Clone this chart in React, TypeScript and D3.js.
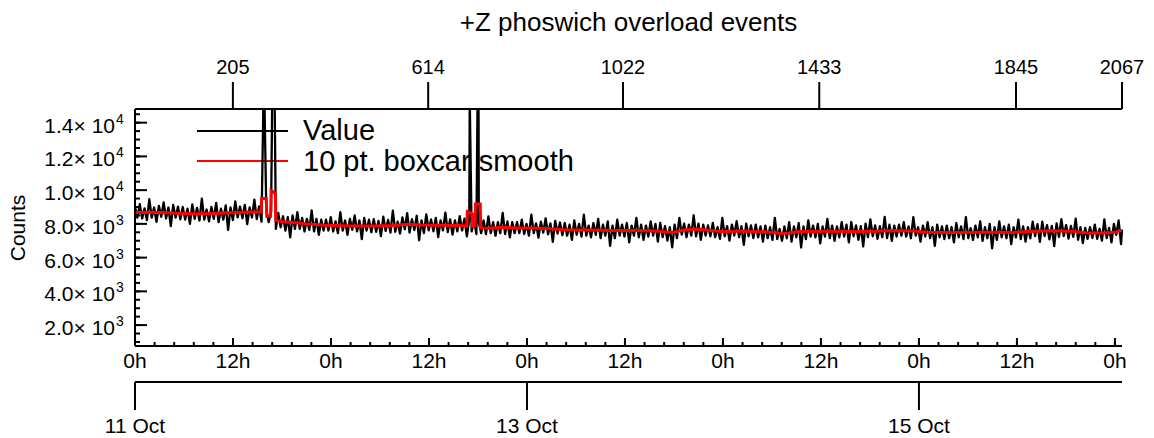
import React from 'react';
import * as d3 from 'd3';

const W = 1154;
const H = 438;
const title = '+Z phoswich overload events';
const yLabel = 'Counts';
const legendLabels = ['Value', '10 pt. boxcar smooth'];

const indexStep = 5;
const values = [
  9020, 8370, 9170, 8320, 8920, 8220, 9470, 8370, 8970, 8120, 9070, 8420, 9270, 8320, 8970, 7870, 9120, 8370, 9020, 8270,
  9000, 8250, 8900, 8000, 9150, 8300, 8950, 8200, 9500, 8250, 8850, 8150, 9000, 8300, 9250, 8100, 8900, 8250, 9100, 7650,
  8980, 8230, 9330, 8380, 9030, 8330, 9130, 7980, 8980, 8380, 9430, 8280, 9030, 8130, 17100, 8800, 8100, 8750, 23000, 7700,
  8650, 7800, 8450, 7600, 8400, 7200, 8500, 7700, 8700, 7700, 8350, 7550, 8300, 7650, 8800, 7550, 8300, 7350, 8250, 7600,
  8250, 7600, 8400, 7550, 8150, 7450, 8700, 7600, 8200, 7350, 8300, 7650, 8500, 7550, 8200, 7100, 8350, 7600, 8250, 7500,
  8280, 7530, 8180, 7280, 8430, 7580, 8230, 7480, 8780, 7530, 8130, 7430, 8380, 7680, 8630, 7480, 8280, 7630, 8480, 7030,
  8210, 7460, 8560, 7610, 8260, 7560, 8360, 7210, 8210, 7610, 8660, 7510, 8260, 7360, 8210, 7560, 8460, 7610, 8310, 7260,
  8250, 7550, 8200, 7400, 8100, 7450, 8200, 7400, 8450, 7450, 8100, 7300, 8100, 7450, 8650, 7400, 8150, 7200, 8100, 7450,
  8100, 7450, 8250, 7400, 8000, 7300, 8550, 7450, 8030, 7180, 8130, 7480, 8330, 7380, 8030, 6930, 8180, 7430, 8080, 7330,
  8050, 7300, 7950, 7050, 8200, 7350, 8000, 7250, 8550, 7300, 7900, 7200, 8050, 7350, 8300, 7150, 7950, 7300, 8150, 6700,
  7900, 7150, 8250, 7300, 7950, 7250, 8050, 6900, 7900, 7300, 8350, 7200, 7950, 7050, 7900, 7250, 8150, 7300, 8000, 6950,
  8060, 7210, 7860, 7010, 7810, 6610, 7960, 7160, 8360, 7360, 8010, 7210, 7960, 7310, 8510, 7260, 8010, 7060, 7960, 7310,
  7910, 7260, 8060, 7210, 7810, 7110, 8360, 7260, 7860, 7010, 7960, 7310, 8160, 7210, 7860, 6760, 8010, 7260, 7910, 7160,
  7950, 7200, 7850, 6950, 7900, 7150, 7800, 7050, 8350, 7100, 7700, 7000, 7850, 7150, 8100, 6950, 7850, 7200, 8050, 6600,
  7850, 7100, 8200, 7250, 7900, 7200, 8000, 6850, 7850, 7250, 8300, 7150, 7900, 7000, 7850, 7200, 8100, 7250, 7950, 6900,
  8110, 7260, 7910, 7060, 7860, 6660, 8010, 7210, 8260, 7260, 7910, 7110, 7860, 7210, 8410, 7160, 7950, 7000, 7900, 7250,
  7950, 7300, 8100, 7250, 7850, 7150, 8400, 7300, 7800, 6950, 7900, 7250, 8100, 7150, 7800, 6700, 7950, 7200, 7850, 7100,
  7900, 7150, 7800, 6900, 8050, 7200, 7850, 7100, 8400, 7150, 7750, 7050, 7900, 7200, 8150, 7000, 7800, 7150, 8000, 6550,
  7800, 7050, 8150, 7200, 7850, 7150, 7950, 6800, 7800, 7200, 8250, 7100, 7850, 6950, 7800, 7150, 8130, 7280, 7980, 6930,
  8130, 7280, 7930, 7080, 7880, 6680, 8030, 7230, 8280, 7280, 7930, 7130, 7880, 7230, 8310, 7060, 7810, 6860, 7760, 7110,
  7810, 7160, 7960, 7110, 7710, 7010, 8260, 7160, 7760, 6910, 8000, 7350, 8200, 6800,
];
// Off-grid raw points (overload spikes, last sample)
const extraIdx = [701, 719, 2067];
const extraVal = [15400, 20900, 7650];

// 10 pt. boxcar smooth
const smoothIdx = [0, 40, 80, 120, 160, 200, 240, 264, 265, 275, 276, 284, 285, 290, 294, 295, 310, 330, 360, 400, 450, 500, 540, 570, 600, 640, 680, 695, 696, 706, 707, 712, 713, 723, 724, 740, 770, 800, 830, 860, 900, 950, 1000, 1060, 1100, 1115, 1130, 1150, 1180, 1200, 1230, 1270, 1300, 1330, 1350, 1370, 1390, 1450, 1500, 1550, 1590, 1630, 1660, 1720, 1780, 1840, 1880, 1920, 1960, 1990, 2030, 2055, 2062, 2067];
const smoothVal = [8670, 8690, 8640, 8600, 8610, 8660, 8700, 8700, 9500, 9500, 8450, 8450, 9980, 9900, 9750, 8200, 8120, 8080, 8000, 7920, 7880, 7880, 7900, 7980, 7940, 7920, 7900, 7880, 8730, 8600, 7850, 7880, 9180, 9180, 7760, 7740, 7800, 7760, 7760, 7720, 7650, 7640, 7600, 7610, 7560, 7500, 7520, 7640, 7690, 7620, 7550, 7580, 7550, 7500, 7450, 7460, 7550, 7560, 7550, 7570, 7610, 7580, 7500, 7490, 7500, 7490, 7560, 7590, 7570, 7470, 7460, 7500, 7620, 7600];

const topTickIdx = [205, 614, 1022, 1433, 1845, 2067];
const indexDomain = [0, 2067];
const yDomain = [760, 14810];
const yTicks = [2000, 4000, 6000, 8000, 10000, 12000, 14000];
const yTickMantissa = ['2.0', '4.0', '6.0', '8.0', '1.0', '1.2', '1.4'];
const yTickExp = ['3', '3', '3', '3', '4', '4', '4'];
const timeStart = new Date(Date.UTC(2020, 9, 11, 0, 0));
const timeEnd = new Date(Date.UTC(2020, 9, 16, 0, 52));

const FONT = "'Liberation Sans', Arial, Helvetica, sans-serif";

export default function App() {
  const left = 135, right = 1122, top = 109, bottom = 346;
  const x = d3.scaleUtc().domain([timeStart, timeEnd]).range([left, right]);
  const xi = d3.scaleLinear().domain(indexDomain).range([left, right]);
  const y = d3.scaleLinear().domain(yDomain).range([bottom, top]);

  const rawPts: [number, number][] = values.map((v, i) => [i * indexStep, v] as [number, number]);
  extraIdx.forEach((ix, k) => rawPts.push([ix, extraVal[k]]));
  rawPts.sort((a, b) => a[0] - b[0]);
  const smoothPts: [number, number][] = smoothIdx.map((ix, k) => [ix, smoothVal[k]] as [number, number]);

  const line = d3.line<[number, number]>().x(d => xi(d[0])).y(d => y(d[1]));

  const hourTicks = d3.utcHour.every(12)!.range(timeStart, new Date(+timeEnd + 1));
  const minorStep = 12 * 3600 * 1000 / 5;
  const minorTicks = d3.range(0, Math.floor((+timeEnd - +timeStart) / minorStep) + 1).map(k => new Date(+timeStart + k * minorStep));
  const dayTicks = d3.utcDay.every(2)!.range(timeStart, timeEnd);
  const fmtHour = (d: Date) => d3.utcFormat('%-H')(d) + 'h';
  const fmtDay = d3.utcFormat('%-d %b');
  const yMinor = d3.range(1000, 14810, 500);

  const dateAxisY = 382;

  return (
    <svg width={W} height={H} style={{ position: 'absolute', left: 0, top: 0, background: '#fff' }} fontFamily={FONT}>
      <defs>
        <clipPath id="plotclip">
          <rect x={left} y={top} width={right - left + 2} height={bottom - top} />
        </clipPath>
      </defs>
      <rect x={0} y={0} width={W} height={H} fill="#fff" />
      {/* title */}
      <text x={(left + right) / 2} y={31} textAnchor="middle" fontSize={26}>{title}</text>

      {/* legend */}
      <line x1={197} x2={288} y1={131} y2={131} stroke="#000" strokeWidth={2} />
      <line x1={197} x2={288} y1={161} y2={161} stroke="#f00" strokeWidth={2} />
      <text x={303} y={140} fontSize={29}>{legendLabels[0]}</text>
      <text x={303} y={171} fontSize={29}>{legendLabels[1]}</text>

      {/* data */}
      <g clipPath="url(#plotclip)">
        <path d={line(rawPts) || ''} fill="none" stroke="#000" strokeWidth={2.3} strokeLinejoin="round" />
        <path d={line(smoothPts) || ''} fill="none" stroke="#f00" strokeWidth={3} />
      </g>

      {/* top axis (index) */}
      <line x1={left} x2={right} y1={top} y2={top} stroke="#000" strokeWidth={2} />
      {topTickIdx.map(t => (
        <g key={'tt' + t}>
          <line x1={xi(t)} x2={xi(t)} y1={top} y2={82} stroke="#000" strokeWidth={2} />
          <text x={xi(t)} y={74} textAnchor="middle" fontSize={20}>{t}</text>
        </g>
      ))}

      {/* left axis */}
      <line x1={left} x2={left} y1={top} y2={bottom} stroke="#000" strokeWidth={2} />
      {yMinor.map(v => (
        <line key={'ym' + v} x1={left} x2={left + 5} y1={y(v)} y2={y(v)} stroke="#000" strokeWidth={2} />
      ))}
      {yTicks.map((v, k) => (
        <g key={'yt' + v}>
          <line x1={left} x2={left + 12} y1={y(v)} y2={y(v)} stroke="#000" strokeWidth={2} />
          <text x={115} y={y(v) + 10} textAnchor="end" fontSize={21}>{yTickMantissa[k] + '\u00d7 10'}</text>
          <text x={116} y={y(v) + 1} fontSize={14}>{yTickExp[k]}</text>
        </g>
      ))}
      <text transform={`translate(25,228) rotate(-90)`} textAnchor="middle" fontSize={21}>{yLabel}</text>

      {/* bottom axis (time) */}
      <line x1={left} x2={right} y1={bottom} y2={bottom} stroke="#000" strokeWidth={2} />
      {minorTicks.map((d, k) => (
        <line key={'mt' + k} x1={x(d)} x2={x(d)} y1={bottom} y2={bottom - 4} stroke="#000" strokeWidth={2} />
      ))}
      {hourTicks.map((d, k) => (
        <g key={'ht' + k}>
          <line x1={x(d)} x2={x(d)} y1={bottom} y2={bottom - 8} stroke="#000" strokeWidth={2} />
          <text x={x(d)} y={368} textAnchor="middle" fontSize={21}>{fmtHour(d)}</text>
        </g>
      ))}

      {/* date axis */}
      <line x1={left} x2={right} y1={dateAxisY} y2={dateAxisY} stroke="#000" strokeWidth={2} />
      {dayTicks.map((d, k) => (
        <g key={'dt' + k}>
          <line x1={x(d)} x2={x(d)} y1={dateAxisY} y2={410} stroke="#000" strokeWidth={2} />
          <text x={x(d)} y={433} textAnchor="middle" fontSize={21}>{fmtDay(d)}</text>
        </g>
      ))}
    </svg>
  );
}
